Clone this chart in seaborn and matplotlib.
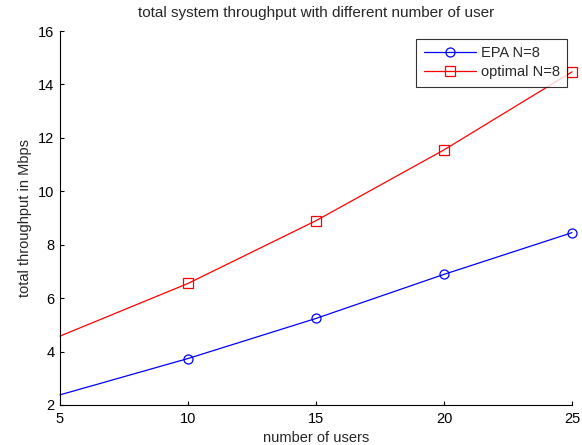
import matplotlib
matplotlib.use("Agg")
import matplotlib.pyplot as plt
import seaborn as sns
import pandas as pd

users = [5, 10, 15, 20, 25]
epa_n8 = [2.38, 3.74, 5.24, 6.89, 8.45]
optimal_n8 = [4.58, 6.55, 8.90, 11.55, 14.47]
x_ticks = [5, 10, 15, 20, 25]
y_ticks = [2, 4, 6, 8, 10, 12, 14, 16]

sns.set_style("ticks")
plt.rcParams["font.family"] = ["Liberation Sans", "DejaVu Sans"]
plt.rcParams["xtick.direction"] = "in"
plt.rcParams["ytick.direction"] = "in"

df = pd.DataFrame({
    "users": users * 2,
    "throughput": epa_n8 + optimal_n8,
    "scheme": ["EPA N=8"] * len(users) + ["optimal N=8"] * len(users),
})

fig = plt.figure(figsize=(5.82, 4.45), dpi=100)
ax = fig.add_axes([60 / 582, 40 / 445, 512 / 582, 374 / 445])

styles = {"EPA N=8": ("#0000ff", "o"), "optimal N=8": ("#ff0000", "s")}
for name, (color, marker) in styles.items():
    sub = df[df["scheme"] == name]
    sns.lineplot(data=sub, x="users", y="throughput", ax=ax, color=color,
                 linewidth=0.9, marker=marker, markersize=6.5,
                 markerfacecolor="none", markeredgecolor=color,
                 markeredgewidth=0.9, markevery=[1, 2, 3, 4],
                 label=name, clip_on=False)

ax.set_xlim(5, 25)
ax.set_ylim(2, 16)
ax.set_xticks(x_ticks)
ax.set_yticks(y_ticks)
ax.tick_params(labelsize=10.5, length=3, width=0.8, colors="#000000")
ax.tick_params(axis="x", pad=5)
ax.tick_params(axis="y", pad=4)
for s in ["left", "bottom"]:
    ax.spines[s].set_linewidth(0.8)
    ax.spines[s].set_color("#000000")
sns.despine(ax=ax)

ax.set_title("total system throughput with different number of user", fontsize=11, pad=10)
ax.set_xlabel("number of users", fontsize=10.5, labelpad=3.5)
ax.set_ylabel("total throughput in Mbps", fontsize=10.5, labelpad=4.5)

leg = ax.legend(loc="upper right", bbox_to_anchor=(0.990, 0.979), fontsize=10.5,
                frameon=True, fancybox=False, edgecolor="#000000",
                handlelength=3.6, handletextpad=0.3, borderpad=0.5,
                labelspacing=0.35, borderaxespad=0)
leg.get_frame().set_linewidth(0.8)

fig.savefig("out.png", dpi=100)
